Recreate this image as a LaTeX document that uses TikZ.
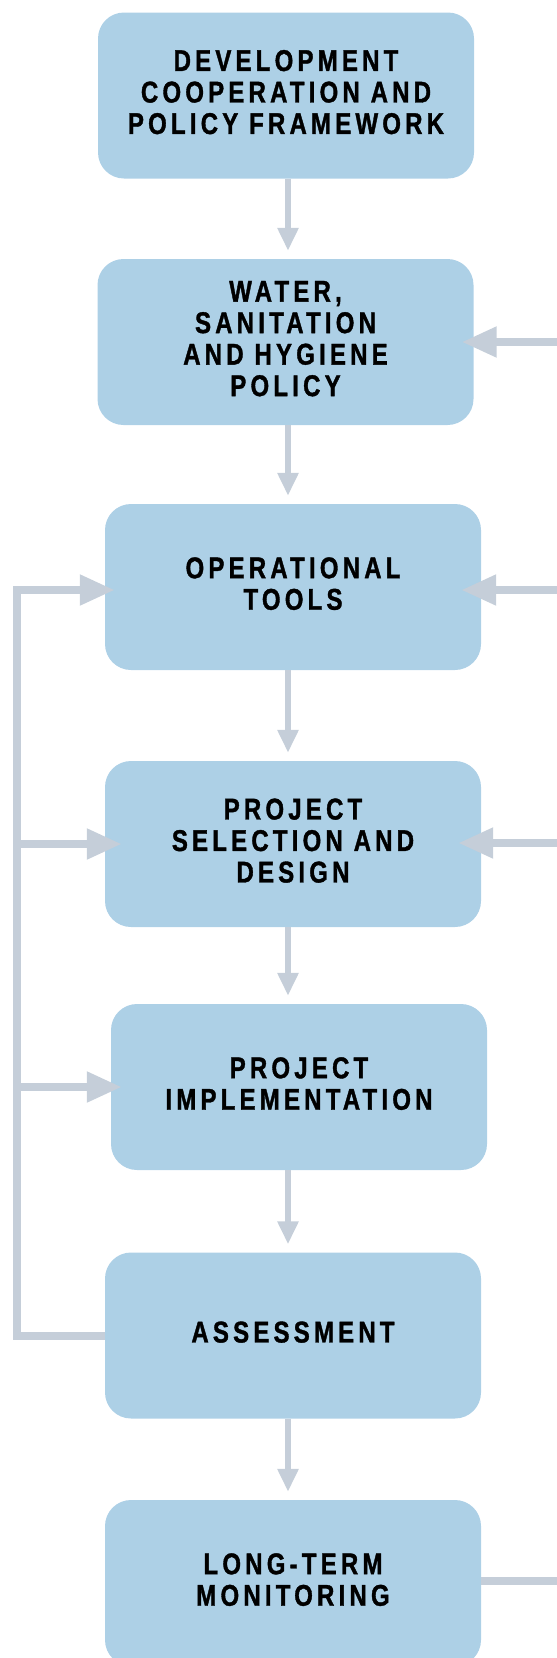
\documentclass[tikz,border=0pt]{standalone}
\usepackage{fontspec}
\usepackage{xcolor}
\usepackage{tikz}
\usetikzlibrary{arrows.meta}
\newfontfamily\stagefont[FakeStretch=0.8,LetterSpace=14,FakeBold=1.2]{Liberation Sans}
\definecolor{stageblue}{RGB}{173,208,230}
\definecolor{linkgrey}{RGB}{197,206,217}
\tikzset{
  stage/.style={fill=stageblue, rounded corners=26pt, inner sep=0pt,
    minimum width=376pt, minimum height=166pt, align=center, text depth=7pt,
    font=\stagefont\bfseries\fontsize{30}{31.5}\selectfont},
  down/.style={draw=linkgrey, line width=6pt,
    -{Triangle[length=23pt,width=20pt]}, shorten >=8pt},
  feed/.style={draw=linkgrey, line width=8pt,
    -{Triangle[length=35pt,width=29pt]}},
  plain/.style={draw=linkgrey, line width=8pt}
}
\begin{document}
\begin{tikzpicture}[x=1pt,y=-1pt]
\clip (0,0) rectangle (557,1658);
\node[stage] (dev) at (286,95.5) {DEVELOPMENT\\COOPERATION AND\\POLICY FRAMEWORK};
\node[stage] (wash) at (285.5,342) {WATER,\\SANITATION\\AND HYGIENE\\POLICY};
\node[stage] (tools) at (293,587) {OPERATIONAL\\TOOLS};
\node[stage] (design) at (293,844) {PROJECT\\SELECTION AND\\DESIGN};
\node[stage] (impl) at (299,1087) {PROJECT\\IMPLEMENTATION};
\node[stage] (assess) at (293,1335.5) {ASSESSMENT};
\node[stage] (monitor) at (293,1583) {LONG-TERM\\MONITORING};
%
\coordinate (spine) at (288,0);
\foreach \Source/\Target in {%
        dev/wash,
        wash/tools,
        tools/design,
        design/impl,
        impl/assess,
        assess/monitor%
    }
\draw[down] (\Source.south -| spine) to (\Target.north -| spine);
%
\coordinate (rwash) at (557,342);
\coordinate (rtools) at (557,590);
\coordinate (rdesign) at (557,843);
\coordinate (rout) at (557,1581);
\draw[feed, shorten >=-12pt] (rwash) to (wash.east);
\draw[feed, shorten >=-20pt] (rtools) to (tools.east |- rtools);
\draw[feed, shorten >=-23pt] (rdesign) to (design.east |- rdesign);
\draw[plain] (monitor.east |- rout) to (rout);
%
\coordinate (loop) at (17,1335.5);
\draw[feed, shorten >=-10pt] (assess.west) -- (loop) |- (tools.west |- rtools);
\draw[feed, shorten >=-17pt] (loop |- design.west) to (design.west);
\draw[feed, shorten >=-11pt] (loop |- impl.west) to (impl.west);
\end{tikzpicture}
\end{document}
